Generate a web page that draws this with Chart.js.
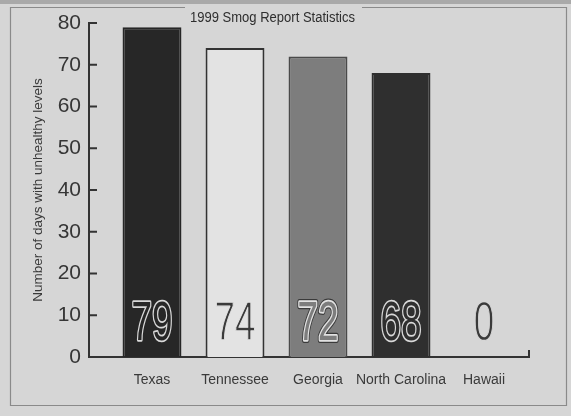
<!DOCTYPE html>
<html><head><meta charset="utf-8">
<script src="https://cdn.jsdelivr.net/npm/chart.js@4/dist/chart.umd.min.js"></script>
<style>html,body{margin:0;padding:0;background:#d6d6d6;}canvas{display:block}</style>
</head><body><canvas id="c" width="571" height="416"></canvas>
<script>
// ---- data ----
const categories = ['Texas', 'Tennessee', 'Georgia', 'North Carolina', 'Hawaii'];
const days = [79, 74, 72, 68, 0];
const yTickValues = [0, 10, 20, 30, 40, 50, 60, 70, 80];
const chartTitle = '1999 Smog Report Statistics';
const yTitle = 'Number of days with unhealthy levels';

// ---- styles ----
const FONT = '"Liberation Sans Narrow", "Liberation Sans", sans-serif';
const BG = '#d6d6d6';
const barFill = ['#272727', '#e3e3e3', '#7d7d7d', '#2f2f2f', 'rgba(0,0,0,0)'];
const barEdge = ['#272727', '#333333', '#4a4a4a', '#2f2f2f', 'rgba(0,0,0,0)'];
const labelStyle = [
  { fill: '#272727', rings: [['#d8d8d8', 3.5]] },
  { fill: '#3a3a3a', rings: [], erode: ['#e3e3e3', 1.3] },
  { fill: '#7d7d7d', rings: [['#3a3a3a', 6], ['#e2e2e2', 3.5]] },
  { fill: '#2f2f2f', rings: [['#d8d8d8', 3.5]] },
  { fill: '#3a3a3a', rings: [], erode: [BG, 1.3] }
];

const decor = {
  id: 'decor',
  beforeDraw(chart) {
    const ctx = chart.ctx;
    ctx.save();
    ctx.fillStyle = BG;
    ctx.fillRect(0, 0, chart.width, chart.height);
    ctx.fillStyle = '#a9a9a9';
    ctx.fillRect(0, 0, chart.width, 4);
    // frame with gap for title
    ctx.strokeStyle = '#8a8a8a';
    ctx.lineWidth = 1.2;
    ctx.beginPath();
    ctx.moveTo(185, 7.5); ctx.lineTo(10.5, 7.5); ctx.lineTo(10.5, 405.5);
    ctx.lineTo(566.5, 405.5); ctx.lineTo(566.5, 7.5); ctx.lineTo(362, 7.5);
    ctx.stroke();
    ctx.restore();
  },
  afterDraw(chart) {
    const ctx = chart.ctx, ys = chart.scales.y, a = chart.chartArea;
    ctx.save();
    ctx.strokeStyle = '#333';
    ctx.lineWidth = 2;
    ctx.beginPath();
    ys.ticks.forEach(t => {
      const py = ys.getPixelForValue(t.value);
      ctx.moveTo(a.left, py); ctx.lineTo(a.left + 8, py);
    });
    ctx.moveTo(a.right, a.bottom); ctx.lineTo(a.right, a.bottom - 7);
    ctx.stroke();
    ctx.fillStyle = '#2e2e2e';
    ctx.font = '15.5px ' + FONT;
    ctx.textAlign = 'left';
    ctx.textBaseline = 'alphabetic';
    ctx.translate(190, 21.5);
    ctx.scale(0.84, 1);
    ctx.fillText(chartTitle, 0, 0);
    ctx.restore();
  },
  afterDatasetsDraw(chart) {
    const ctx = chart.ctx, meta = chart.getDatasetMeta(0), ys = chart.scales.y;
    ctx.save();
    ctx.font = '55px ' + FONT;
    ctx.textAlign = 'center';
    ctx.textBaseline = 'alphabetic';
    ctx.lineJoin = 'round';
    meta.data.forEach((bar, i) => {
      const st = labelStyle[i];
      const txt = String(days[i]);
      ctx.save();
      ctx.translate(bar.x, ys.getPixelForValue(4));
      ctx.scale(0.67, 1);
      st.rings.forEach(([c, w]) => { ctx.strokeStyle = c; ctx.lineWidth = w; ctx.strokeText(txt, 0, 0); });
      ctx.fillStyle = st.fill;
      ctx.fillText(txt, 0, 0);
      if (st.erode) { ctx.strokeStyle = st.erode[0]; ctx.lineWidth = st.erode[1]; ctx.strokeText(txt, 0, 0); }
      ctx.restore();
    });
    ctx.restore();
  }
};

new Chart(document.getElementById('c'), {
  type: 'bar',
  data: {
    datasets: [{
      data: days.map((v, i) => ({ x: i, y: v })),
      backgroundColor: barFill,
      borderColor: barEdge,
      borderWidth: 2,
      barPercentage: 0.71,
      categoryPercentage: 1
    }]
  },
  options: {
    responsive: false,
    animation: false,
    layout: { padding: { left: 0, right: 42, top: 23, bottom: 0 } },
    plugins: { legend: { display: false }, tooltip: { enabled: false }, title: { display: false } },
    scales: {
      x: {
        type: 'linear',
        offset: false,
        min: -0.759,
        max: 4.542,
        afterBuildTicks: s => { s.ticks = categories.map((_, i) => ({ value: i })); },
        afterFit: s => { s.height = 59; },
        grid: { display: false, drawTicks: false, offset: false },
        border: { display: true, color: '#333', width: 2 },
        ticks: {
          padding: 15,
          autoSkip: false,
          maxRotation: 0,
          color: '#3a3a3a',
          font: { family: FONT, size: 14 },
          callback: v => categories[v]
        }
      },
      y: {
        min: 0,
        max: 80,
        afterBuildTicks: s => { s.ticks = yTickValues.map(v => ({ value: v })); },
        afterFit: s => { s.width = 89; },
        grid: { display: false, drawTicks: false },
        border: { display: true, color: '#333', width: 2 },
        ticks: {
          padding: 8,
          color: '#363636',
          font: { family: FONT, size: 21 }
        },
        title: {
          display: true,
          text: yTitle,
          color: '#3a3a3a',
          font: { family: FONT, size: 13.5 },
          padding: { top: 30, bottom: 0 }
        }
      }
    }
  },
  plugins: [decor]
});
</script>
</body></html>
